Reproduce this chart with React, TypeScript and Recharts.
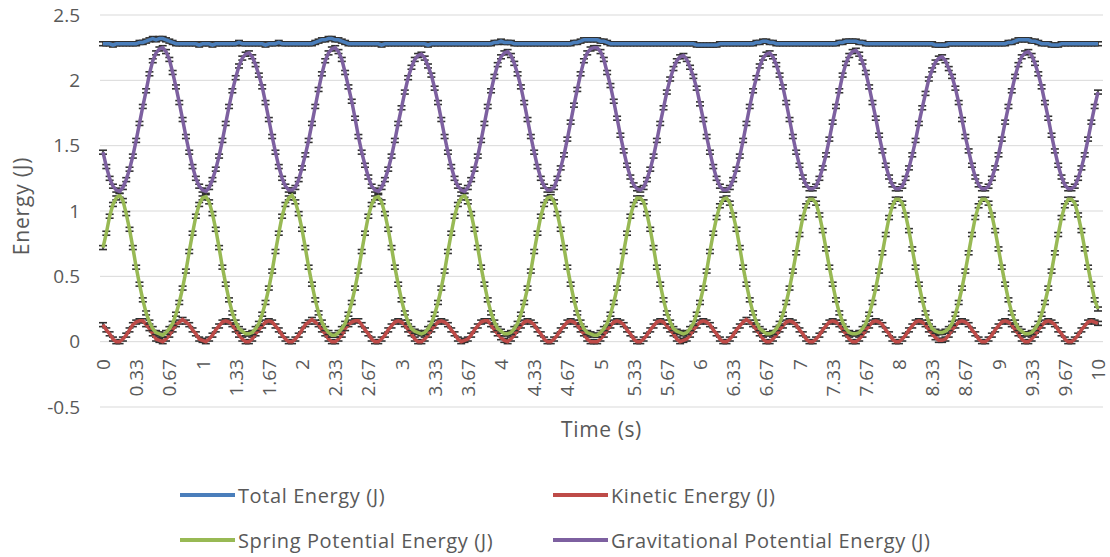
import { LineChart, Line, XAxis, YAxis, CartesianGrid, ErrorBar, Label } from 'recharts';

const FONT = '"Open Sans", Lato, sans-serif';
const TEXT = '#595959';

// frames at 30 fps, 0 .. 10 s
const TIME = Array.from({ length: 301 }, (_, i) => i / 30);
const X_TICK_LABELS = [
  '0', '0.33', '0.67', '1', '1.33', '1.67', '2', '2.33', '2.67', '3', '3.33', '3.67', '4', '4.33', '4.67', '5',
  '5.33', '5.67', '6', '6.33', '6.67', '7', '7.33', '7.67', '8', '8.33', '8.67', '9', '9.33', '9.67', '10',
];
const Y_TICKS = [-0.5, 0, 0.5, 1, 1.5, 2, 2.5];
const ERR = 0.015;

const TOTAL = [
  2.28, 2.28, 2.28, 2.27, 2.28,
  2.28, 2.28, 2.28, 2.28, 2.28, 2.28, 2.29, 2.29, 2.30, 2.31, 2.32, 2.31, 2.32, 2.32, 2.31, 2.30, 2.29, 2.28, 2.28, 2.28, 2.28, 2.28, 2.28, 2.28, 2.27, 2.28,
  2.28, 2.28, 2.27, 2.28, 2.28, 2.28, 2.28, 2.28, 2.28, 2.28, 2.29, 2.28, 2.28, 2.28, 2.28, 2.28, 2.28, 2.28, 2.27, 2.28, 2.28, 2.28, 2.29, 2.28, 2.28, 2.28,
  2.28, 2.28, 2.28, 2.28, 2.28, 2.28, 2.28, 2.29, 2.30, 2.31, 2.31, 2.32, 2.32, 2.31, 2.31, 2.30, 2.29, 2.28, 2.28, 2.28, 2.28, 2.28, 2.28, 2.28, 2.28, 2.28,
  2.28, 2.27, 2.28, 2.28, 2.28, 2.28, 2.28, 2.28, 2.28, 2.28, 2.28, 2.28, 2.28, 2.28, 2.28, 2.27, 2.28, 2.28, 2.28, 2.28, 2.28, 2.28, 2.28, 2.28, 2.28, 2.28,
  2.28, 2.28, 2.28, 2.28, 2.28, 2.28, 2.28, 2.28, 2.28, 2.29, 2.29, 2.30, 2.29, 2.29, 2.29, 2.28, 2.28, 2.28, 2.28, 2.28, 2.28, 2.28, 2.28, 2.28, 2.28, 2.28,
  2.28, 2.28, 2.28, 2.28, 2.28, 2.28, 2.28, 2.29, 2.29, 2.30, 2.31, 2.31, 2.31, 2.31, 2.31, 2.30, 2.30, 2.29, 2.28, 2.28, 2.28, 2.28, 2.28, 2.28, 2.28, 2.28, 2.28,
  2.28, 2.28, 2.28, 2.28, 2.28, 2.28, 2.28, 2.28, 2.28, 2.28, 2.28, 2.28, 2.28, 2.28, 2.28, 2.28, 2.28, 2.27, 2.27, 2.27, 2.27, 2.27, 2.27, 2.27, 2.28, 2.28,
  2.28, 2.28, 2.28, 2.28, 2.28, 2.28, 2.28, 2.28, 2.28, 2.29, 2.29, 2.30, 2.30, 2.29, 2.29, 2.28, 2.28, 2.28, 2.28, 2.28, 2.28, 2.28, 2.28, 2.28, 2.28, 2.28,
  2.28, 2.28, 2.28, 2.28, 2.28, 2.28, 2.28, 2.28, 2.29, 2.29, 2.30, 2.30, 2.30, 2.30, 2.29, 2.29, 2.28, 2.28, 2.28, 2.28, 2.28, 2.28, 2.28, 2.28, 2.28, 2.28,
  2.28, 2.28, 2.28, 2.28, 2.28, 2.28, 2.28, 2.28, 2.28, 2.28, 2.28, 2.27, 2.27, 2.27, 2.27, 2.28, 2.28, 2.28, 2.28, 2.28, 2.28, 2.28, 2.28, 2.28, 2.28, 2.28,
  2.28, 2.28, 2.28, 2.28, 2.28, 2.28, 2.28, 2.29, 2.29, 2.30, 2.31, 2.31, 2.31, 2.31, 2.30, 2.30, 2.29, 2.28, 2.28, 2.28, 2.27, 2.27, 2.27, 2.28, 2.28, 2.28,
  2.28, 2.28, 2.28, 2.28, 2.28, 2.28, 2.28, 2.28, 2.28,
];

const KINETIC = [
  0.13, 0.09, 0.06, 0.02, 0.00,
  0.00, 0.02, 0.05, 0.09, 0.13, 0.15, 0.16, 0.16, 0.13, 0.10, 0.06, 0.02, 0.01, 0.00, 0.02, 0.05, 0.09, 0.13, 0.15, 0.17, 0.15, 0.13, 0.09, 0.06, 0.02, 0.01,
  0.00, 0.02, 0.05, 0.09, 0.12, 0.15, 0.16, 0.15, 0.13, 0.09, 0.05, 0.02, 0.00, 0.00, 0.02, 0.06, 0.09, 0.12, 0.15, 0.16, 0.15, 0.12, 0.09, 0.05, 0.02, 0.00,
  0.00, 0.02, 0.05, 0.09, 0.13, 0.15, 0.17, 0.15, 0.13, 0.09, 0.06, 0.02, 0.00, 0.00, 0.02, 0.05, 0.10, 0.13, 0.15, 0.16, 0.16, 0.13, 0.09, 0.06, 0.02, 0.00,
  0.00, 0.02, 0.05, 0.09, 0.12, 0.15, 0.16, 0.15, 0.13, 0.09, 0.06, 0.02, 0.00, 0.00, 0.02, 0.05, 0.09, 0.12, 0.15, 0.16, 0.15, 0.13, 0.09, 0.06, 0.02, 0.00,
  0.01, 0.02, 0.05, 0.09, 0.12, 0.15, 0.16, 0.16, 0.13, 0.09, 0.06, 0.03, 0.01, 0.00, 0.02, 0.05, 0.09, 0.12, 0.15, 0.16, 0.15, 0.13, 0.09, 0.06, 0.02, 0.00,
  0.00, 0.02, 0.05, 0.09, 0.12, 0.15, 0.16, 0.15, 0.13, 0.09, 0.06, 0.02, 0.00, 0.00, 0.00, 0.02, 0.05, 0.09, 0.12, 0.15, 0.16, 0.15, 0.13, 0.09, 0.06, 0.02, 0.00,
  0.00, 0.02, 0.05, 0.09, 0.12, 0.15, 0.16, 0.15, 0.12, 0.09, 0.06, 0.02, 0.00, 0.01, 0.02, 0.05, 0.09, 0.12, 0.15, 0.16, 0.15, 0.13, 0.09, 0.06, 0.02, 0.00,
  0.00, 0.02, 0.05, 0.09, 0.12, 0.15, 0.17, 0.15, 0.13, 0.09, 0.06, 0.02, 0.00, 0.00, 0.02, 0.05, 0.09, 0.12, 0.15, 0.16, 0.15, 0.13, 0.09, 0.06, 0.02, 0.00,
  0.00, 0.02, 0.05, 0.09, 0.12, 0.15, 0.16, 0.15, 0.13, 0.09, 0.06, 0.02, 0.00, 0.00, 0.02, 0.05, 0.09, 0.12, 0.15, 0.16, 0.15, 0.13, 0.09, 0.06, 0.02, 0.00,
  0.00, 0.02, 0.05, 0.09, 0.12, 0.15, 0.16, 0.15, 0.13, 0.09, 0.06, 0.03, 0.01, 0.01, 0.02, 0.05, 0.09, 0.12, 0.15, 0.16, 0.15, 0.13, 0.09, 0.06, 0.02, 0.00,
  0.00, 0.02, 0.05, 0.09, 0.12, 0.15, 0.16, 0.15, 0.13, 0.09, 0.06, 0.02, 0.00, 0.00, 0.02, 0.05, 0.09, 0.12, 0.15, 0.16, 0.15, 0.13, 0.09, 0.06, 0.02, 0.00,
  0.00, 0.02, 0.05, 0.09, 0.12, 0.15, 0.16, 0.15, 0.14,
];

const SPRING = [
  0.72, 0.83, 0.96, 1.05, 1.10,
  1.12, 1.08, 0.98, 0.86, 0.72, 0.57, 0.44, 0.32, 0.22, 0.15, 0.10, 0.07, 0.06, 0.05, 0.07, 0.10, 0.14, 0.21, 0.30, 0.41, 0.54, 0.69, 0.83, 0.96, 1.05, 1.10,
  1.11, 1.07, 0.98, 0.86, 0.72, 0.57, 0.44, 0.32, 0.22, 0.15, 0.10, 0.08, 0.06, 0.06, 0.07, 0.10, 0.14, 0.21, 0.30, 0.41, 0.54, 0.69, 0.83, 0.96, 1.05, 1.10,
  1.12, 1.07, 0.98, 0.86, 0.72, 0.57, 0.44, 0.32, 0.22, 0.15, 0.10, 0.07, 0.05, 0.05, 0.07, 0.10, 0.14, 0.21, 0.30, 0.41, 0.54, 0.69, 0.83, 0.96, 1.05, 1.10,
  1.11, 1.07, 0.98, 0.86, 0.72, 0.57, 0.44, 0.32, 0.22, 0.15, 0.10, 0.08, 0.07, 0.06, 0.07, 0.10, 0.14, 0.21, 0.30, 0.41, 0.54, 0.69, 0.83, 0.96, 1.05, 1.10,
  1.12, 1.07, 0.98, 0.86, 0.72, 0.57, 0.44, 0.32, 0.22, 0.15, 0.10, 0.08, 0.06, 0.06, 0.07, 0.10, 0.14, 0.21, 0.30, 0.41, 0.54, 0.69, 0.83, 0.96, 1.05, 1.10,
  1.11, 1.07, 0.98, 0.86, 0.72, 0.57, 0.44, 0.32, 0.22, 0.15, 0.10, 0.07, 0.06, 0.05, 0.05, 0.07, 0.10, 0.14, 0.21, 0.30, 0.41, 0.54, 0.69, 0.83, 0.96, 1.05, 1.10,
  1.10, 1.07, 0.98, 0.86, 0.72, 0.57, 0.44, 0.32, 0.22, 0.15, 0.10, 0.08, 0.07, 0.06, 0.07, 0.10, 0.14, 0.21, 0.30, 0.41, 0.54, 0.69, 0.83, 0.95, 1.04, 1.09,
  1.10, 1.06, 0.97, 0.86, 0.72, 0.57, 0.44, 0.32, 0.22, 0.15, 0.10, 0.08, 0.06, 0.06, 0.07, 0.10, 0.14, 0.21, 0.30, 0.41, 0.54, 0.68, 0.82, 0.95, 1.04, 1.09,
  1.09, 1.06, 0.97, 0.85, 0.71, 0.57, 0.44, 0.32, 0.22, 0.15, 0.10, 0.07, 0.06, 0.06, 0.07, 0.10, 0.14, 0.21, 0.30, 0.41, 0.54, 0.68, 0.82, 0.95, 1.04, 1.09,
  1.09, 1.06, 0.97, 0.85, 0.71, 0.57, 0.44, 0.32, 0.22, 0.15, 0.10, 0.08, 0.07, 0.07, 0.08, 0.10, 0.14, 0.21, 0.30, 0.41, 0.54, 0.68, 0.82, 0.95, 1.04, 1.09,
  1.09, 1.06, 0.97, 0.85, 0.71, 0.57, 0.44, 0.32, 0.22, 0.15, 0.10, 0.08, 0.06, 0.06, 0.07, 0.10, 0.14, 0.21, 0.30, 0.41, 0.54, 0.68, 0.82, 0.95, 1.04, 1.09,
  1.09, 1.06, 0.97, 0.85, 0.71, 0.57, 0.44, 0.32, 0.25,
];

const GRAVITY = [
  1.45, 1.34, 1.25, 1.19, 1.16,
  1.15, 1.18, 1.24, 1.32, 1.42, 1.54, 1.67, 1.80, 1.92, 2.05, 2.15, 2.21, 2.24, 2.25, 2.22, 2.16, 2.06, 1.95, 1.83, 1.70, 1.57, 1.45, 1.34, 1.25, 1.19, 1.16,
  1.15, 1.18, 1.24, 1.32, 1.42, 1.54, 1.67, 1.80, 1.92, 2.02, 2.11, 2.17, 2.20, 2.21, 2.18, 2.12, 2.04, 1.95, 1.83, 1.70, 1.57, 1.45, 1.34, 1.25, 1.19, 1.16,
  1.16, 1.18, 1.24, 1.33, 1.43, 1.54, 1.67, 1.80, 1.93, 2.05, 2.15, 2.21, 2.24, 2.25, 2.22, 2.16, 2.06, 1.95, 1.84, 1.71, 1.57, 1.45, 1.35, 1.26, 1.19, 1.16,
  1.15, 1.18, 1.24, 1.32, 1.42, 1.54, 1.67, 1.79, 1.91, 2.02, 2.10, 2.16, 2.19, 2.20, 2.17, 2.11, 2.04, 1.94, 1.83, 1.70, 1.57, 1.45, 1.34, 1.25, 1.19, 1.16,
  1.15, 1.18, 1.24, 1.32, 1.42, 1.54, 1.67, 1.80, 1.92, 2.03, 2.12, 2.18, 2.21, 2.22, 2.19, 2.13, 2.05, 1.95, 1.83, 1.70, 1.57, 1.45, 1.34, 1.25, 1.19, 1.16,
  1.16, 1.18, 1.25, 1.33, 1.43, 1.55, 1.68, 1.81, 1.93, 2.05, 2.15, 2.21, 2.24, 2.25, 2.25, 2.22, 2.16, 2.06, 1.96, 1.84, 1.71, 1.58, 1.46, 1.35, 1.26, 1.20, 1.17,
  1.16, 1.18, 1.24, 1.32, 1.42, 1.54, 1.67, 1.79, 1.91, 2.01, 2.09, 2.15, 2.18, 2.19, 2.16, 2.10, 2.03, 1.94, 1.82, 1.70, 1.57, 1.45, 1.34, 1.25, 1.19, 1.16,
  1.16, 1.18, 1.24, 1.32, 1.42, 1.54, 1.67, 1.80, 1.92, 2.02, 2.11, 2.17, 2.20, 2.21, 2.18, 2.12, 2.04, 1.95, 1.83, 1.70, 1.57, 1.45, 1.35, 1.26, 1.20, 1.17,
  1.17, 1.19, 1.25, 1.33, 1.43, 1.55, 1.68, 1.80, 1.92, 2.04, 2.13, 2.19, 2.22, 2.23, 2.20, 2.14, 2.06, 1.95, 1.83, 1.71, 1.58, 1.46, 1.35, 1.26, 1.20, 1.17,
  1.17, 1.19, 1.25, 1.33, 1.43, 1.54, 1.67, 1.79, 1.90, 2.01, 2.08, 2.14, 2.17, 2.18, 2.15, 2.09, 2.03, 1.94, 1.83, 1.70, 1.57, 1.46, 1.35, 1.26, 1.20, 1.17,
  1.17, 1.19, 1.25, 1.33, 1.43, 1.55, 1.68, 1.80, 1.92, 2.03, 2.12, 2.18, 2.21, 2.22, 2.19, 2.13, 2.05, 1.95, 1.83, 1.71, 1.58, 1.46, 1.35, 1.26, 1.20, 1.17,
  1.17, 1.19, 1.25, 1.33, 1.43, 1.55, 1.68, 1.80, 1.91,
];

const SERIES = [
  { key: 'total', name: 'Total Energy (J)', color: '#4A7EBB' },
  { key: 'kinetic', name: 'Kinetic Energy (J)', color: '#BE4B48' },
  { key: 'spring', name: 'Spring Potential Energy (J)', color: '#98B954' },
  { key: 'gravity', name: 'Gravitational Potential Energy (J)', color: '#7D60A0' },
];

const data = TIME.map((t, i) => ({
  t,
  total: TOTAL[i],
  kinetic: KINETIC[i],
  spring: SPRING[i],
  gravity: GRAVITY[i],
  err: ERR,
}));

function TimeTick({ x, y, payload }: any) {
  const label = X_TICK_LABELS[Math.round(payload.value * 3)];
  const ty = y - 48;
  return (
    <text
      x={x}
      y={ty}
      transform={`rotate(-90, ${x}, ${ty})`}
      textAnchor="end"
      dominantBaseline="central"
      fill={TEXT}
      fontSize={19}
      fontFamily={FONT}
    >
      {label}
    </text>
  );
}

function EnergyLabel({ viewBox }: any) {
  const cx = viewBox.x + 21;
  const cy = viewBox.y + viewBox.height / 2 - 5;
  return (
    <text
      x={cx}
      y={cy}
      transform={`rotate(-90, ${cx}, ${cy})`}
      textAnchor="middle"
      dominantBaseline="central"
      fill={TEXT}
      fontSize={21}
      letterSpacing={0.8}
      fontFamily={FONT}
    >
      Energy (J)
    </text>
  );
}

const LEGEND_POS = [
  { left: 180, top: 495 },
  { left: 553, top: 495 },
  { left: 180, top: 540 },
  { left: 553, top: 540 },
];

export default function App() {
  return (
    <div style={{ position: 'absolute', left: 0, top: 0, width: 1110, height: 557, background: '#fff' }}>
      <LineChart width={1110} height={557} data={data} margin={{ top: 15, right: 7, bottom: 115, left: 0 }}>
        <CartesianGrid vertical={false} stroke="#D9D9D9" strokeWidth={1} />
        <XAxis
          dataKey="t"
          interval={9}
          axisLine={false}
          tickLine={false}
          tickSize={0}
          tickMargin={0}
          height={35}
          padding={{ left: 3, right: 5 }}
          tick={<TimeTick />}
          label={{
            value: 'Time (s)',
            position: 'insideBottom',
            offset: 5,
            fill: TEXT,
            fontSize: 21,
            fontFamily: FONT,
            letterSpacing: 0.6,
          }}
        />
        <YAxis
          domain={[-0.5, 2.5]}
          ticks={Y_TICKS}
          width={100}
          axisLine={false}
          tickLine={false}
          tickSize={0}
          tickMargin={20}
          tick={{ fill: TEXT, fontSize: 19, fontFamily: FONT }}
        >
          <Label content={<EnergyLabel />} />
        </YAxis>
        {SERIES.map((s) => (
          <Line
            key={s.key}
            dataKey={s.key}
            name={s.name}
            type="linear"
            stroke={s.color}
            strokeWidth={3.5}
            dot={false}
            activeDot={false}
            isAnimationActive={false}
          >
            <ErrorBar dataKey="err" direction="y" width={4} stroke="#303030" strokeWidth={1.6} isAnimationActive={false} />
          </Line>
        ))}
      </LineChart>
      {SERIES.map((s, i) => (
        <div
          key={s.key}
          style={{
            position: 'absolute',
            left: LEGEND_POS[i].left,
            top: LEGEND_POS[i].top - 13,
            height: 26,
            display: 'flex',
            alignItems: 'center',
            fontFamily: FONT,
            fontSize: 20,
            letterSpacing: 0.6,
            color: TEXT,
            whiteSpace: 'nowrap',
          }}
        >
          <div style={{ width: 55, height: 4, background: s.color, marginRight: 3 }} />
          <span>{s.name}</span>
        </div>
      ))}
    </div>
  );
}
